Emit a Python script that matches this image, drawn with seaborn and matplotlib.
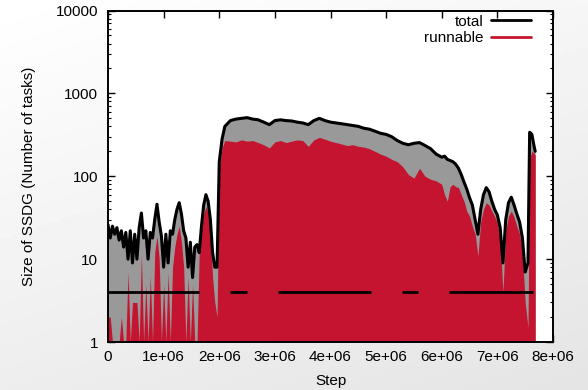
import numpy as np
import matplotlib
matplotlib.use("Agg")
import matplotlib.pyplot as plt
import seaborn as sns
from matplotlib.lines import Line2D
from matplotlib.ticker import LogLocator, NullLocator, NullFormatter

# step (in millions), total tasks and runnable tasks
step_m = [0.00, 0.04, 0.08, 0.12, 0.16, 0.20, 0.24, 0.28, 0.32, 0.36,
          0.40, 0.44, 0.48, 0.52, 0.56, 0.60, 0.64, 0.68, 0.72, 0.76,
          0.80, 0.84, 0.88, 0.92, 0.96, 1.00, 1.04, 1.08, 1.12, 1.16,
          1.20, 1.24, 1.28, 1.32, 1.36, 1.40, 1.44, 1.48, 1.52, 1.56,
          1.60, 1.64, 1.68, 1.72, 1.76, 1.80, 1.84, 1.88, 1.92, 1.96,
          2.00, 2.05, 2.10, 2.20, 2.30, 2.40, 2.50, 2.60, 2.70, 2.80,
          2.90, 3.00, 3.10, 3.20, 3.30, 3.40, 3.50, 3.60, 3.70, 3.80,
          3.90, 4.00, 4.10, 4.20, 4.30, 4.40, 4.50, 4.60, 4.70, 4.80,
          4.90, 5.00, 5.10, 5.20, 5.30, 5.40, 5.50, 5.60, 5.70, 5.80,
          5.90, 6.00, 6.05, 6.10, 6.15, 6.20, 6.25, 6.30, 6.35, 6.40,
          6.45, 6.50, 6.55, 6.60, 6.65, 6.70, 6.75, 6.80, 6.85, 6.90,
          6.95, 7.00, 7.05, 7.10, 7.15, 7.20, 7.25, 7.30, 7.35, 7.40,
          7.45, 7.50, 7.55, 7.58, 7.62, 7.66, 7.68]

total = [26, 18, 25, 20, 24, 17, 22, 14, 21, 10,
         22, 9, 20, 10, 24, 36, 18, 22, 10, 21,
         18, 30, 46, 28, 19, 8, 20, 9, 22, 20,
         30, 40, 48, 35, 22, 18, 8, 16, 6, 14,
         15, 12, 25, 45, 60, 50, 30, 12, 8, 8,
         150, 280, 400, 470, 490, 500, 510, 490, 480, 450,
         420, 470, 480, 470, 465, 450, 440, 420, 470, 500,
         470, 450, 440, 430, 420, 410, 400, 380, 370, 350,
         330, 320, 300, 270, 250, 240, 250, 255, 235, 215,
         185, 170, 175, 160, 155, 150, 140, 125, 105, 85,
         70, 55, 45, 30, 20, 40, 60, 73, 65, 50,
         40, 34, 24, 9, 30, 48, 56, 45, 35, 28,
         18, 7, 9, 340, 320, 230, 200]

runnable = [2, 2, 1, 1, 1, 1, 2, 1, 1, 7,
            1, 3, 3, 3, 1, 11.6, 1, 5, 1, 6.3,
            1, 12, 19, 10, 1, 5, 1, 7, 1, 8,
            14, 20, 25, 16, 8, 1, 6, 1, 5, 1,
            1, 12, 22, 35, 43, 35, 20, 6, 3, 2,
            120, 220, 270, 265, 260, 275, 265, 270, 255, 240,
            220, 260, 270, 255, 265, 275, 270, 230, 275, 295,
            280, 265, 255, 245, 235, 240, 230, 225, 215, 200,
            185, 175, 160, 150, 130, 105, 95, 125, 100, 92,
            88, 80, 60, 50, 75, 80, 75, 73, 60, 50,
            38, 33, 25, 20, 11, 28, 40, 48, 45, 38,
            33, 27, 17, 4, 22, 33, 38, 32, 25, 20,
            12, 3, 1.5, 160, 200, 190, 180]

# black segments drawn at 4 tasks
seg_start_m = [0.00, 2.20, 3.05, 5.28, 6.13]
seg_end_m = [1.64, 2.49, 4.72, 5.57, 7.64]
seg_level = 4

x_ticks = [0, 1e6, 2e6, 3e6, 4e6, 5e6, 6e6, 7e6, 8e6]
x_tick_labels = ['0', '1e+06', '2e+06', '3e+06', '4e+06', '5e+06', '6e+06', '7e+06', '8e+06']
y_ticks = [1, 10, 100, 1000, 10000]
y_tick_labels = ['1', '10', '100', '1000', '10000']

sns.set_theme(style="ticks")
plt.rcParams['font.family'] = ['Liberation Sans', 'DejaVu Sans']
plt.rcParams['text.color'] = 'black'
plt.rcParams['axes.labelcolor'] = 'black'

steps = np.array(step_m) * 1e6
red = '#c41430'
gray = '#999999'

fig = plt.figure(figsize=(5.88, 3.9), dpi=100)

# light gradient backdrop
bg = fig.add_axes([0, 0, 1, 1], zorder=-10)
gy, gx = np.mgrid[0:1:100j, 0:1:100j]
shade = 1.0 - 0.07 * gy - 0.035 * gx
bg.imshow(shade, cmap='gray', vmin=0, vmax=1, aspect='auto', extent=[0, 1, 0, 1], origin='upper')
bg.axis('off')

ax = fig.add_axes([0.1837, 0.123, 0.7568, 0.850])
ax.set_facecolor('white')

ax.fill_between(steps, 1, total, color=gray, linewidth=0)
ax.fill_between(steps, 1, runnable, color=red, linewidth=0)
sns.lineplot(x=steps, y=total, color='black', linewidth=2.2, ax=ax, sort=False)
seg_y = [seg_level] * len(seg_start_m)
ax.hlines(seg_y, np.array(seg_start_m) * 1e6, np.array(seg_end_m) * 1e6, color='black', linewidth=2.0)

ax.set_yscale('log')
ax.set_xlim(0, 8e6)
ax.set_ylim(1, 10000)
ax.set_xticks(x_ticks)
ax.set_xticklabels(x_tick_labels)
ax.set_yticks(y_ticks)
ax.set_yticklabels(y_tick_labels)
ax.yaxis.set_minor_locator(LogLocator(base=10, subs=np.arange(2, 10)))
ax.yaxis.set_minor_formatter(NullFormatter())
ax.xaxis.set_minor_locator(NullLocator())
ax.tick_params(which='both', direction='in', top=True, right=True, colors='black', labelsize=11)
ax.tick_params(which='major', length=5, width=1.0)
ax.tick_params(which='minor', length=2.5, width=0.8)
ax.tick_params(axis='x', pad=6)
ax.tick_params(axis='y', pad=7)
for s in ax.spines.values():
    s.set_color('black')
    s.set_linewidth(1.4)

ax.set_xlabel('Step', fontsize=11, labelpad=7, color='black')
ax.set_ylabel('Size of SSDG (Number of tasks)', fontsize=11, labelpad=14, color='black')

handles = [Line2D([0], [0], color='black', linewidth=2),
           Line2D([0], [0], color=red, linewidth=2)]
ax.legend(handles, ['total', 'runnable'], loc='upper right', frameon=False,
          markerfirst=False, fontsize=11, handlelength=2.6, labelspacing=0.15,
          handletextpad=0.5, borderaxespad=0.3, bbox_to_anchor=(0.975, 1.02))

plt.savefig('out.png', dpi=100)
